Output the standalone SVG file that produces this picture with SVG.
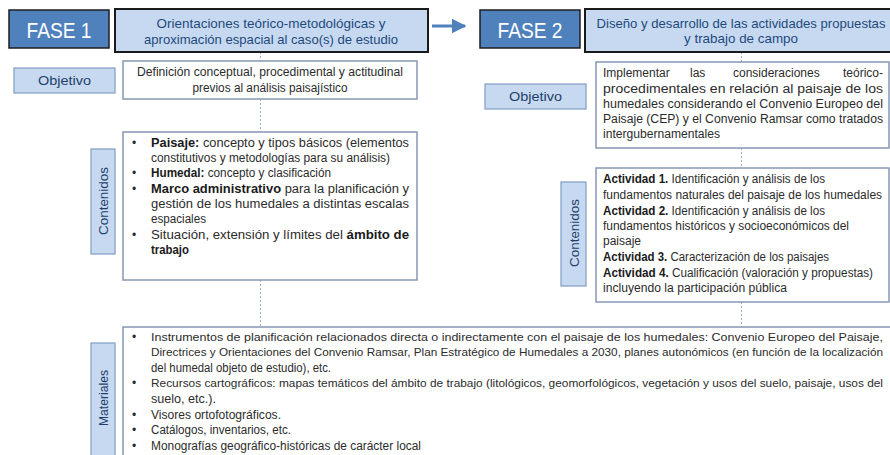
<svg xmlns="http://www.w3.org/2000/svg" width="890" height="455" viewBox="0 0 890 455">
<style>
.fase{fill:#4F81BD;stroke:#1e1e1e;stroke-width:1.5}
.fasetxt{font-family:"Liberation Sans",Arial,sans-serif;font-size:21.5px;fill:#ffffff;text-anchor:middle}
.title{fill:#C6D9F1;stroke:#1a1a1a;stroke-width:2}
.titletxt{font-family:"Liberation Sans",Arial,sans-serif;font-size:13.5px;fill:#1F497D;text-anchor:middle}
.lab{fill:#C6D9F1;stroke:#7F9DC4;stroke-width:1.2}
.labtxt{font-family:"Liberation Sans",Arial,sans-serif;font-size:13.5px;fill:#1F3F6A;text-anchor:middle}
.box{fill:#ffffff;stroke:#8797B4;stroke-width:1.5}
.t{font-family:"Liberation Sans",Arial,sans-serif;font-size:12px;fill:#2b2b2b}
.s{font-size:11.4px}
.b{font-weight:bold;fill:#1a1a1a}
.dash{stroke:#95B3D7;stroke-width:1;stroke-dasharray:2 2;fill:none}
.arrow{stroke:#4F81BD;stroke-width:3;fill:none}
</style>
<defs>
<marker id="ah" markerWidth="5" markerHeight="5" refX="4.5" refY="2.5" orient="auto" markerUnits="strokeWidth">
<path d="M0,0 L5,2.5 L0,5 Z" fill="#4F81BD"/>
</marker>
</defs>
<rect width="890" height="455" fill="#ffffff"/>

<g id="connectors">
<line class="arrow" x1="432" y1="26" x2="465" y2="26" marker-end="url(#ah)"/>
<line class="dash" x1="260.5" y1="52" x2="260.5" y2="61"/>
<line class="dash" x1="260.5" y1="99" x2="260.5" y2="132"/>
<line class="dash" x1="260.5" y1="280" x2="260.5" y2="327"/>
<line class="dash" x1="741.5" y1="52" x2="741.5" y2="62"/>
<line class="dash" x1="741.5" y1="148" x2="741.5" y2="168"/>
<line class="dash" x1="741.5" y1="302" x2="741.5" y2="327"/>
</g>

<g id="fase1">
<rect class="fase" x="9" y="10" width="100" height="38"/>
<text class="fasetxt" x="59" y="38" textLength="65" lengthAdjust="spacingAndGlyphs">FASE 1</text>
</g>
<g id="titulo1">
<rect class="title" x="115" y="9" width="313" height="43"/>
<text class="titletxt" x="271" y="28" textLength="229" lengthAdjust="spacingAndGlyphs">Orientaciones teórico-metodológicas y</text>
<text class="titletxt" x="271" y="44" textLength="254" lengthAdjust="spacingAndGlyphs">aproximación espacial al caso(s) de estudio</text>
</g>
<g id="fase2">
<rect class="fase" x="480" y="10" width="100" height="38"/>
<text class="fasetxt" x="530" y="38" textLength="65" lengthAdjust="spacingAndGlyphs">FASE 2</text>
</g>
<g id="titulo2">
<rect class="title" x="585" y="9" width="312" height="43"/>
<text class="titletxt" x="741" y="28" textLength="289" lengthAdjust="spacingAndGlyphs" style="font-size:12.8px">Diseño y desarrollo de las actividades propuestas</text>
<text class="titletxt" x="741" y="43" textLength="114" lengthAdjust="spacingAndGlyphs">y trabajo de campo</text>
</g>

<g id="objetivo1">
<rect class="lab" x="14" y="68" width="101" height="25"/>
<text class="labtxt" x="64.5" y="85" textLength="53" lengthAdjust="spacingAndGlyphs">Objetivo</text>
</g>
<g id="objetivo1-texto">
<rect class="box" x="123" y="61" width="294" height="38"/>
<text class="t" x="270" y="76" text-anchor="middle" textLength="266" lengthAdjust="spacingAndGlyphs">Definición conceptual, procedimental y actitudinal</text>
<text class="t" x="270" y="92" text-anchor="middle" textLength="155" lengthAdjust="spacingAndGlyphs">previos al análisis paisajístico</text>
</g>

<g id="objetivo2">
<rect class="lab" x="485" y="84" width="101" height="25"/>
<text class="labtxt" x="535.5" y="101" textLength="53" lengthAdjust="spacingAndGlyphs">Objetivo</text>
</g>
<g id="objetivo2-texto">
<rect class="box" x="596" y="62" width="293" height="86"/>
<text class="t" y="77"><tspan x="603">Implementar</tspan><tspan x="690">las</tspan><tspan x="733">consideraciones</tspan><tspan x="883" text-anchor="end">teórico-</tspan></text>
<text class="t" x="603" y="93" textLength="280" lengthAdjust="spacingAndGlyphs">procedimentales en relación al paisaje de los</text>
<text class="t" x="603" y="108" textLength="280" lengthAdjust="spacingAndGlyphs">humedales considerando el Convenio Europeo del</text>
<text class="t" x="603" y="123" textLength="280" lengthAdjust="spacingAndGlyphs">Paisaje (CEP) y el Convenio Ramsar como tratados</text>
<text class="t" x="603" y="138" textLength="117" lengthAdjust="spacingAndGlyphs">intergubernamentales</text>
</g>

<g id="contenidos1">
<rect class="lab" x="91" y="149" width="24" height="105"/>
<text class="labtxt" transform="translate(108,201) rotate(-90)" x="0" y="0" textLength="68" lengthAdjust="spacingAndGlyphs">Contenidos</text>
</g>
<g id="contenidos1-texto">
<rect class="box" x="123" y="132" width="294" height="148"/>
<text class="t" x="132" y="147">•</text>
<text class="t" x="132" y="177">•</text>
<text class="t" x="132" y="193">•</text>
<text class="t" x="132" y="239">•</text>
<text class="t" x="151" y="147" textLength="258" lengthAdjust="spacingAndGlyphs"><tspan class="b">Paisaje:</tspan> concepto y tipos básicos (elementos</text>
<text class="t" x="151" y="162" textLength="239" lengthAdjust="spacingAndGlyphs">constitutivos y metodologías para su análisis)</text>
<text class="t" x="151" y="177" textLength="180" lengthAdjust="spacingAndGlyphs"><tspan class="b">Humedal:</tspan> concepto y clasificación</text>
<text class="t" x="151" y="193" textLength="258" lengthAdjust="spacingAndGlyphs"><tspan class="b">Marco administrativo</tspan> para la planificación y</text>
<text class="t" x="151" y="208" textLength="258" lengthAdjust="spacingAndGlyphs">gestión de los humedales a distintas escalas</text>
<text class="t" x="151" y="223" textLength="55" lengthAdjust="spacingAndGlyphs">espaciales</text>
<text class="t" x="151" y="239" textLength="258" lengthAdjust="spacingAndGlyphs">Situación, extensión y límites del <tspan class="b">ámbito de</tspan></text>
<text class="t b" x="151" y="254" textLength="38" lengthAdjust="spacingAndGlyphs">trabajo</text>
</g>

<g id="contenidos2">
<rect class="lab" x="561" y="182" width="25" height="104"/>
<text class="labtxt" transform="translate(578.5,233) rotate(-90)" x="0" y="0" textLength="68" lengthAdjust="spacingAndGlyphs">Contenidos</text>
</g>
<g id="contenidos2-texto">
<rect class="box" x="596" y="168" width="293" height="134"/>
<text class="t" x="603" y="183" textLength="222" lengthAdjust="spacingAndGlyphs"><tspan class="b">Actividad 1.</tspan> Identificación y análisis de los</text>
<text class="t" x="603" y="199" textLength="279" lengthAdjust="spacingAndGlyphs">fundamentos naturales del paisaje de los humedales</text>
<text class="t" x="603" y="215" textLength="222" lengthAdjust="spacingAndGlyphs"><tspan class="b">Actividad 2.</tspan> Identificación y análisis de los</text>
<text class="t" x="603" y="230" textLength="246" lengthAdjust="spacingAndGlyphs">fundamentos históricos y socioeconómicos del</text>
<text class="t" x="603" y="245" textLength="38" lengthAdjust="spacingAndGlyphs">paisaje</text>
<text class="t" x="603" y="261" textLength="226" lengthAdjust="spacingAndGlyphs"><tspan class="b">Actividad 3.</tspan> Caracterización de los paisajes</text>
<text class="t" x="603" y="277" textLength="270" lengthAdjust="spacingAndGlyphs"><tspan class="b">Actividad 4.</tspan> Cualificación (valoración y propuestas)</text>
<text class="t" x="603" y="292" textLength="184" lengthAdjust="spacingAndGlyphs">incluyendo la participación pública</text>
</g>

<g id="materiales">
<rect class="lab" x="91" y="343" width="24" height="116"/>
<text class="labtxt" transform="translate(108,398) rotate(-90)" x="0" y="0" textLength="56" lengthAdjust="spacingAndGlyphs">Materiales</text>
</g>
<g id="materiales-texto">
<rect class="box" x="123" y="327" width="772" height="135"/>
<text class="t" x="132" y="341">•</text>
<text class="t" x="132" y="387">•</text>
<text class="t" x="132" y="419">•</text>
<text class="t" x="132" y="434">•</text>
<text class="t" x="132" y="450">•</text>
<text class="t s" x="151" y="341" textLength="732" lengthAdjust="spacingAndGlyphs">Instrumentos de planificación relacionados directa o indirectamente con el paisaje de los humedales: Convenio Europeo del Paisaje,</text>
<text class="t s" x="151" y="356" textLength="732" lengthAdjust="spacingAndGlyphs">Directrices y Orientaciones del Convenio Ramsar, Plan Estratégico de Humedales a 2030, planes autonómicos (en función de la localización</text>
<text class="t" x="151" y="372" textLength="180" lengthAdjust="spacingAndGlyphs">del humedal objeto de estudio), etc.</text>
<text class="t s" x="151" y="387" textLength="732" lengthAdjust="spacingAndGlyphs">Recursos cartográficos: mapas temáticos del ámbito de trabajo (litológicos, geomorfológicos, vegetación y usos del suelo, paisaje, usos del</text>
<text class="t" x="151" y="403" textLength="65" lengthAdjust="spacingAndGlyphs">suelo, etc.).</text>
<text class="t" x="151" y="419" textLength="130" lengthAdjust="spacingAndGlyphs">Visores ortofotográficos.</text>
<text class="t" x="151" y="434" textLength="140" lengthAdjust="spacingAndGlyphs">Catálogos, inventarios, etc.</text>
<text class="t" x="151" y="450" textLength="270" lengthAdjust="spacingAndGlyphs">Monografías geográfico-históricas de carácter local</text>
</g>
</svg>
